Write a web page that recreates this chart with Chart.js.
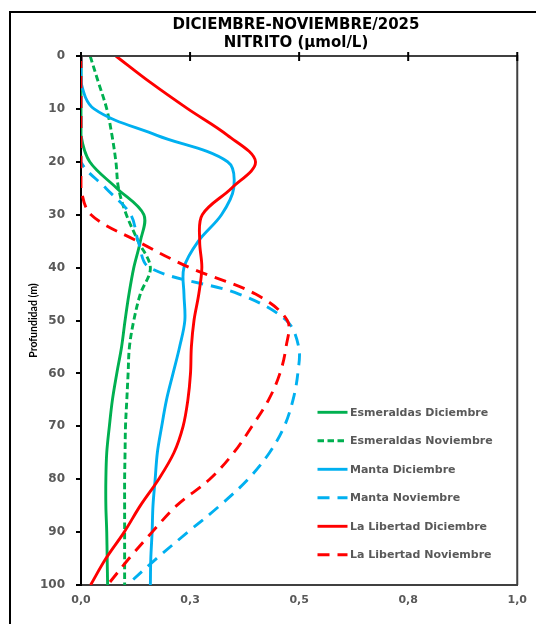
<!DOCTYPE html>
<html><head><meta charset="utf-8">
<script src="https://cdn.jsdelivr.net/npm/chart.js@4"></script>
<style>
html,body{margin:0;padding:0;background:#fff;overflow:hidden;}
canvas{display:block;}
</style></head><body>
<canvas id="c" width="536" height="624"></canvas>
<script>
const titleLines = ['DICIEMBRE-NOVIEMBRE/2025', 'NITRITO (µmol/L)'];
const yTitle = 'Profundidad (m)';
const depths = [0,5,10,15,20,25,30,35,40,45,50,55,60,65,70,75,80,85,90,95,100];
const seriesNames = ['Esmeraldas Diciembre','Esmeraldas Noviembre','Manta Diciembre','Manta Noviembre','La Libertad Diciembre','La Libertad Noviembre'];
const esmeraldasDic = [0,0,0,0,0.02,0.082,0.144,0.136,0.121,0.11,0.101,0.093,0.082,0.072,0.065,0.059,0.057,0.057,0.059,0.060,0.061];
const esmeraldasNov = [0.021,0.04,0.059,0.071,0.080,0.086,0.104,0.131,0.159,0.136,0.121,0.111,0.108,0.105,0.102,0.101,0.100,0.100,0.100,0.100,0.100];
const mantaDic = [0,0,0.03,0.174,0.336,0.35,0.322,0.269,0.236,0.236,0.238,0.226,0.211,0.196,0.185,0.175,0.17,0.165,0.163,0.16,0.159];
const mantaNov = [0,0,0,0,0,0.057,0.114,0.131,0.157,0.362,0.471,0.499,0.497,0.486,0.466,0.432,0.383,0.318,0.245,0.173,0.106];
const libertadDic = [0.08,0.159,0.245,0.336,0.40,0.345,0.278,0.272,0.277,0.27,0.259,0.253,0.251,0.245,0.234,0.213,0.178,0.136,0.099,0.057,0.022];
const libertadNov = [0,0,0,0,0,0,0.023,0.129,0.249,0.40,0.473,0.47,0.456,0.43,0.392,0.35,0.295,0.219,0.163,0.11,0.061];
const xTickValues = [0,0.25,0.5,0.75,1];
const xTickLabels = ['0,0','0,3','0,5','0,8','1,0'];

const seriesValues = [esmeraldasDic, esmeraldasNov, mantaDic, mantaNov, libertadDic, libertadNov];
const seriesColors = ['#00B050','#00B050','#00B0F0','#00B0F0','#FF0000','#FF0000'];
const seriesDash = [[],[6.5,3.5],[],[12,8],[],[12,8]];

const datasets = seriesValues.map((vals, i) => ({
  label: seriesNames[i],
  data: depths.map((d, j) => ({x: vals[j], y: d})),
  borderColor: seriesColors[i],
  backgroundColor: seriesColors[i],
  borderDash: seriesDash[i],
  borderWidth: 2.9,
  showLine: true,
  pointRadius: 0,
  tension: 0.35,
  fill: false,
  order: seriesValues.length - i
}));

const boxPlugin = {
  id: 'boxPlugin',
  afterLayout(chart) {
    const t = chart.titleBlock;
    if (t) { t.left += 34; t.right += 34; }
  },
  beforeDraw(chart) {
    const {ctx} = chart;
    ctx.save();
    ctx.fillStyle = '#fff';
    ctx.fillRect(0, 0, chart.width, chart.height);
    ctx.strokeStyle = '#000';
    ctx.lineWidth = 2;
    ctx.beginPath();
    ctx.moveTo(10, chart.height + 2); ctx.lineTo(10, 12); ctx.lineTo(chart.width + 2, 12);
    ctx.stroke();
    ctx.restore();
  },
  afterDraw(chart) {
    const {ctx, chartArea: a, scales: {x}} = chart;
    ctx.save();
    ctx.strokeStyle = '#404040';
    ctx.lineWidth = 2;
    ctx.beginPath();
    ctx.moveTo(a.left, a.top); ctx.lineTo(a.right, a.top); ctx.lineTo(a.right, a.bottom);
    ctx.stroke();
    ctx.strokeStyle = '#000';
    xTickValues.forEach(v => {
      const px = x.getPixelForValue(v);
      ctx.beginPath(); ctx.moveTo(px, a.top - 4); ctx.lineTo(px, a.top + 5); ctx.stroke();
    });
    ctx.font = 'bold 11px "DejaVu Sans"';
    ctx.textBaseline = 'middle';
    ctx.textAlign = 'left';
    chart.data.datasets.forEach((ds, i) => {
      const yy = 412.3 + i * 28.5;
      ctx.strokeStyle = ds.borderColor;
      ctx.lineWidth = ds.borderWidth;
      ctx.setLineDash(ds.borderDash);
      ctx.beginPath(); ctx.moveTo(317.5, yy); ctx.lineTo(347.5, yy); ctx.stroke();
      ctx.setLineDash([]);
      ctx.fillStyle = '#595959';
      ctx.fillText(ds.label, 350, yy + 0.5);
    });
    ctx.restore();
  }
};

new Chart(document.getElementById('c'), {
  type: 'scatter',
  data: {datasets},
  plugins: [boxPlugin],
  options: {
    responsive: false,
    devicePixelRatio: 1,
    animation: false,
    layout: {padding: {left: 0, right: 12, top: 0, bottom: 0}},
    plugins: {
      legend: {display: false},
      tooltip: {enabled: false},
      title: {
        display: true,
        text: titleLines,
        color: '#000',
        font: {family: '"DejaVu Sans"', size: 15, weight: 'bold', lineHeight: '18px'},
        padding: {top: 16, bottom: 4}
      }
    },
    scales: {
      x: {
        type: 'linear', position: 'bottom', min: 0, max: 1,
        afterBuildTicks: s => { s.ticks = xTickValues.map(v => ({value: v})); },
        ticks: {
          callback: (v, i) => xTickLabels[i],
          color: '#595959', padding: 9,
          font: {family: '"DejaVu Sans"', size: 11, weight: 'bold'},
          maxRotation: 0
        },
        grid: {display: false, drawTicks: false},
        border: {display: true, color: '#404040', width: 2},
        afterFit: s => { s.height = 39; }
      },
      y: {
        type: 'linear', position: 'left', reverse: true, min: 0, max: 100,
        ticks: {
          stepSize: 10, color: '#595959', padding: 11,
          font: {family: '"DejaVu Sans"', size: 12, weight: 'bold'}
        },
        grid: {drawOnChartArea: false, drawTicks: true, tickLength: 5, color: '#000', lineWidth: 2},
        border: {display: true, color: '#000', width: 2},
        title: {
          display: true, text: yTitle, color: '#000',
          font: {family: 'Lato', size: 10.5, weight: 'bold'},
          padding: {top: 27.5, bottom: 0}
        },
        afterFit: s => { s.width = 81; }
      }
    }
  }
});
</script></body></html>
